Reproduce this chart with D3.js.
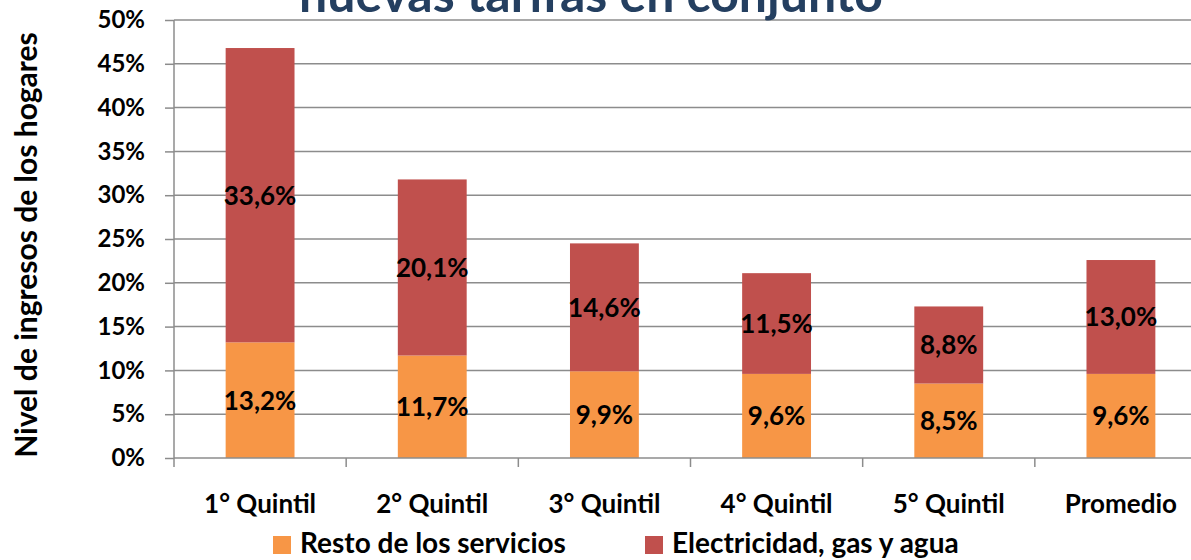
<!DOCTYPE html>
<html>
<head>
<meta charset="utf-8">
<script src="https://cdn.jsdelivr.net/npm/d3@7"></script>
<style>
  body { margin: 0; background: #fff; }
  text { font-family: Lato, "Open Sans", sans-serif; font-weight: bold; }
</style>
</head>
<body>
<svg id="chart" width="1191" height="560"></svg>
<script>
// data
const categories = ["1° Quintil", "2° Quintil", "3° Quintil", "4° Quintil", "5° Quintil", "Promedio"];
const resto = [13.2, 11.7, 9.9, 9.6, 8.5, 9.6];
const electricidad = [33.6, 20.1, 14.6, 11.5, 8.8, 13.0];
const yTicks = [0, 5, 10, 15, 20, 25, 30, 35, 40, 45, 50];
const seriesNames = ["Resto de los servicios", "Electricidad, gas y agua"];
const colors = ["#F79646", "#C0504D"];

const svg = d3.select("#chart"),
    margin = {top: 20, left: 174},
    width = 1033,          // plot runs past the right edge like the original
    height = 438;

const g = svg.append("g")
    .attr("transform", "translate(" + margin.left + "," + margin.top + ")");

const x = d3.scaleBand().domain(categories).range([0, width]).paddingInner(0).paddingOuter(0);
const y = d3.scaleLinear().domain([0, 50]).range([height, 0]);
const barW = x.bandwidth() * 0.4;

// gridlines
g.append("g").selectAll("line")
    .data(yTicks.slice(1))
    .enter().append("line")
    .attr("x1", 0).attr("x2", width)
    .attr("y1", d => y(d)).attr("y2", d => y(d))
    .attr("stroke", "#8c8c8c").attr("stroke-width", 1.5);

// stacked data
const rows = categories.map((c, i) => ({cat: c, resto: resto[i], elec: electricidad[i]}));
const stack = d3.stack().keys(["resto", "elec"])(rows);

g.append("g").selectAll("g")
    .data(stack)
    .enter().append("g")
    .attr("fill", (d, i) => colors[i])
    .selectAll("rect")
    .data(d => d)
    .enter().append("rect")
    .attr("x", d => x(d.data.cat) + (x.bandwidth() - barW) / 2)
    .attr("y", d => y(d[1]))
    .attr("width", barW)
    .attr("height", d => y(d[0]) - y(d[1]));

// value labels
g.append("g").selectAll("g")
    .data(stack)
    .enter().append("g")
    .selectAll("text")
    .data(d => d)
    .enter().append("text")
    .attr("x", d => x(d.data.cat) + x.bandwidth() / 2)
    .attr("y", d => (y(d[0]) + y(d[1])) / 2)
    .attr("dy", "0.36em")
    .attr("text-anchor", "middle")
    .attr("font-size", "26px")
    .attr("fill", "#000")
    .text(d => (d[1] - d[0]).toFixed(1).replace(".", ",") + "%");

// y axis
const yAxis = g.append("g")
    .call(d3.axisLeft(y).tickValues(yTicks).tickSize(9).tickPadding(20).tickFormat(d => d + "%"));
yAxis.select(".domain").attr("stroke", "#8c8c8c").attr("stroke-width", 1.5).attr("d", "M0,0V" + height);
yAxis.selectAll(".tick line").attr("stroke", "#8c8c8c").attr("stroke-width", 1.5);
yAxis.selectAll(".tick text").attr("font-size", "24px").attr("fill", "#000")
    .style("font-family", "Lato, sans-serif").style("font-weight", "bold");

// x axis
const xAxis = g.append("g")
    .attr("transform", "translate(0," + height + ")")
    .call(d3.axisBottom(x).tickSize(0).tickPadding(37));
xAxis.select(".domain").attr("stroke", "#8c8c8c").attr("stroke-width", 1.5).attr("d", "M0,0H" + width);
xAxis.selectAll(".tick text").attr("font-size", "26px").attr("fill", "#000")
    .style("font-family", "Lato, sans-serif").style("font-weight", "bold");
xAxis.append("g").selectAll("line")
    .data(categories)
    .enter().append("line")
    .attr("x1", d => x(d)).attr("x2", d => x(d))
    .attr("y1", 0).attr("y2", 9)
    .attr("stroke", "#8c8c8c").attr("stroke-width", 1.5);

// y label
svg.append("text")
    .attr("transform", "translate(37,245) rotate(-90)")
    .attr("text-anchor", "middle")
    .attr("font-size", "30px")
    .attr("fill", "#000")
    .text("Nivel de ingresos de los hogares");

// title (cut off at top, as in the original)
svg.append("text")
    .attr("x", 591)
    .attr("y", 12)
    .attr("text-anchor", "middle")
    .attr("font-size", "50px")
    .attr("fill", "#243F60")
    .text("nuevas tarifas en conjunto");

// legend
const legendX = [273, 645];
const legend = svg.append("g").selectAll("g")
    .data(seriesNames)
    .enter().append("g")
    .attr("transform", (d, i) => "translate(" + legendX[i] + ",536)");
legend.append("rect")
    .attr("width", 18).attr("height", 18)
    .attr("fill", (d, i) => colors[i]);
legend.append("text")
    .attr("x", 27).attr("y", 17)
    .attr("font-size", "28px")
    .attr("fill", "#000")
    .text(d => d);
</script>
</body>
</html>
